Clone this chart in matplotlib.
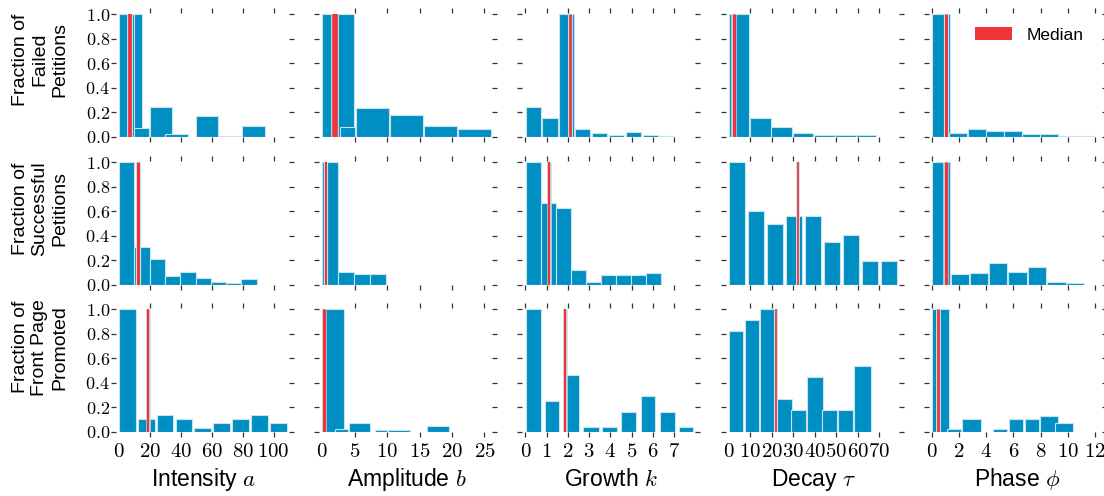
import matplotlib
matplotlib.use("Agg")
import matplotlib.pyplot as plt
import matplotlib.patheffects as pe
from matplotlib.patches import Patch
from matplotlib.ticker import FuncFormatter

plt.rcParams['mathtext.fontset'] = 'cm'
plt.rcParams['font.family'] = ['Liberation Sans', 'DejaVu Sans']

# ---------------- data: (left edge, right edge, fraction) per histogram bar ----------------
failed_intensity = [(0, 9.7, 1.0), (9.7, 14.8, 1.0), (9.7, 19.5, 0.07), (20.0, 34.6, 0.24),
                    (29.7, 44.7, 0.02), (49.7, 64.3, 0.17), (64.5, 79.3, 0.004), (79.5, 94.2, 0.09)]
successful_intensity = [(0, 9.9, 1.0), (9.9, 19.8, 0.305), (19.8, 29.7, 0.206), (29.7, 39.6, 0.07),
                        (39.6, 49.5, 0.10), (49.5, 59.4, 0.052), (59.4, 69.3, 0.025),
                        (69.3, 79.2, 0.016), (79.2, 89.1, 0.044)]
front_intensity = [(0, 10.8, 1.0), (12.0, 23.0, 0.104), (24.4, 35.2, 0.14), (36.6, 47.4, 0.104),
                   (48.8, 59.6, 0.03), (61.0, 71.8, 0.068), (73.2, 84.0, 0.104),
                   (85.4, 96.2, 0.14), (97.6, 108.4, 0.068)]

failed_amplitude = [(0, 4.9, 1.0), (2.7, 5.1, 0.076), (5.25, 10.35, 0.237), (10.5, 15.5, 0.174),
                    (15.7, 20.75, 0.09), (20.9, 26.0, 0.06)]
successful_amplitude = [(0, 2.4, 1.0), (2.45, 4.9, 0.107), (4.9, 7.35, 0.085), (7.35, 9.8, 0.085)]
front_amplitude = [(0, 3.3, 1.0), (1.9, 4.0, 0.02), (4.1, 7.4, 0.074), (8.1, 10.0, 0.016),
                   (10.2, 13.5, 0.016), (16.2, 19.6, 0.05)]

failed_growth = [(0.03, 0.75, 0.24), (0.79, 1.52, 0.155), (1.56, 2.28, 1.0), (2.34, 3.06, 0.06),
                 (3.13, 3.85, 0.033), (3.94, 4.64, 0.016), (4.73, 5.43, 0.035),
                 (5.53, 6.23, 0.014), (6.3, 7.0, 0.003)]
successful_growth = [(0.03, 0.73, 1.0), (0.73, 1.43, 0.67), (1.43, 2.13, 0.626), (2.13, 2.84, 0.118),
                     (2.84, 3.54, 0.025), (3.54, 4.25, 0.082), (4.25, 4.96, 0.082),
                     (4.96, 5.66, 0.082), (5.66, 6.37, 0.093)]
front_growth = [(0.03, 0.73, 1.0), (0.92, 1.6, 0.247), (1.82, 2.51, 0.46), (2.71, 3.44, 0.038),
                (3.61, 4.31, 0.038), (4.52, 5.22, 0.162), (5.42, 6.11, 0.29),
                (6.32, 7.02, 0.162), (7.23, 7.91, 0.038)]

failed_decay = [(0, 9.6, 1.0), (9.8, 19.6, 0.155), (19.7, 29.5, 0.082), (29.7, 39.4, 0.027),
                (39.5, 49.3, 0.011), (49.4, 59.0, 0.011), (59.2, 68.6, 0.011)]
successful_decay = [(0, 7.7, 1.0), (8.9, 16.5, 0.6), (17.8, 25.3, 0.5), (26.6, 34.2, 0.56),
                    (35.4, 43.0, 0.56), (44.3, 51.9, 0.35), (53.1, 60.7, 0.404),
                    (62.0, 69.5, 0.19), (70.8, 78.4, 0.19)]
front_decay = [(0, 6.9, 0.82), (7.5, 14.2, 0.91), (14.7, 21.3, 1.0), (22.6, 29.5, 0.27),
               (29.1, 36.0, 0.178), (36.4, 44.1, 0.45), (43.6, 50.6, 0.178),
               (50.8, 57.8, 0.178), (58.4, 66.0, 0.54)]

failed_phase = [(0, 1.35, 1.0), (1.3, 2.6, 0.033), (2.65, 4.0, 0.06), (4.0, 5.3, 0.046),
                (5.3, 6.65, 0.049), (6.65, 7.95, 0.025), (7.97, 9.27, 0.025),
                (9.3, 10.6, 0.003), (10.6, 11.9, 0.005)]
successful_phase = [(0, 1.35, 1.0), (1.4, 2.73, 0.085), (2.78, 4.1, 0.093), (4.18, 5.55, 0.18),
                    (5.6, 6.97, 0.107), (7.05, 8.4, 0.146), (8.48, 9.84, 0.025),
                    (9.9, 11.2, 0.016)]
front_phase = [(0, 1.3, 1.0), (1.1, 2.16, 0.022), (2.23, 3.6, 0.107), (4.53, 5.56, 0.022),
               (5.66, 6.74, 0.107), (6.82, 7.87, 0.107), (7.95, 9.25, 0.13), (9.05, 10.4, 0.074)]

failed_medians = [7.3, 2.0, 2.08, 2.4, 1.07]
successful_medians = [12.0, 0.65, 1.11, 32.4, 1.05]
front_medians = [18.6, 0.25, 1.85, 21.85, 0.45]

parameter_labels = ['Intensity $a$', 'Amplitude $b$', 'Growth $k$', r'Decay $\tau$', r'Phase $\phi$']
group_labels = ['Fraction of\nFailed\nPetitions', 'Fraction of\nSuccessful\nPetitions',
                'Fraction of\nFront Page\nPromoted']
x_ticks = [[0, 20, 40, 60, 80, 100], [0, 5, 10, 15, 20, 25], [0, 1, 2, 3, 4, 5, 6, 7],
           [0, 10, 20, 30, 40, 50, 60, 70], [0, 2, 4, 6, 8, 10, 12]]
x_limits = [110, 26.2, 8, 79, 12.5]
y_ticks = [0.0, 0.2, 0.4, 0.6, 0.8, 1.0]

rows = [
    (failed_intensity, failed_amplitude, failed_growth, failed_decay, failed_phase),
    (successful_intensity, successful_amplitude, successful_growth, successful_decay, successful_phase),
    (front_intensity, front_amplitude, front_growth, front_decay, front_phase),
]
medians = [failed_medians, successful_medians, front_medians]

# ---------------- style ----------------
BLUE = '#008fc2'
EDGE = '#c6e2ed'
RED = '#ef3338'
median_px = [[3.7, 5.6, 2.7, 3.3, 3.0], [3.0, 2.0, 2.3, 1.7, 3.3], [2.3, 3.3, 2.3, 1.7, 2.7]]
label_y = [0.63, 0.62, 0.69]
hide_zero_tick = [True, True, False, True, False]

W, H = 1104, 496
fig = plt.figure(figsize=(W / 100, H / 100), dpi=100)

row_tops = [14.3, 162.3, 309.3]
row_h = 122.4
col_lefts = [119, 322.2, 525.4, 728.6, 931.8]
col_w = 170

for r in range(3):
    for c in range(5):
        ax = fig.add_axes([col_lefts[c] / W, 1 - (row_tops[r] + row_h) / H, col_w / W, row_h / H])
        for (lo, hi, h) in rows[r][c]:
            ax.bar(lo, h, width=hi - lo, align='edge', color=BLUE, edgecolor=EDGE, linewidth=0.8)
        lw = median_px[r][c] * 0.72
        ax.axvline(medians[r][c], color=RED, lw=lw, solid_capstyle='butt',
                   path_effects=[pe.Stroke(linewidth=lw + 1.6, foreground=EDGE), pe.Normal()])
        ax.set_xlim(0, x_limits[c])
        ax.set_ylim(0, 1)
        for s in ax.spines.values():
            s.set_visible(False)
        ax.spines['left'].set_position(('outward', 2.2))
        ax.spines['top'].set_position(('outward', 1.2))
        ax.set_xticks(x_ticks[c])
        ax.set_yticks(y_ticks)
        ax.xaxis.set_major_formatter(FuncFormatter(lambda v, p: '$%g$' % v))
        ax.yaxis.set_major_formatter(FuncFormatter(lambda v, p: '$%.1f$' % v))
        ax.tick_params(axis='both', which='major', direction='out', length=3.3, width=0.9,
                       color='#333333', top=True, right=True,
                       labelbottom=(r == 2), labelleft=(c == 0))
        ax.tick_params(axis='x', labelsize=15, pad=4)
        ax.tick_params(axis='y', labelsize=13, pad=1)
        if hide_zero_tick[c]:
            t0 = ax.xaxis.get_major_ticks()[0]
            t0.tick1line.set_visible(False)
            t0.tick2line.set_visible(False)
        if r == 2:
            ax.set_xlabel(parameter_labels[c], fontsize=16.5, va='baseline')
            ax.xaxis.set_label_coords(0.5, -0.44)
        if c == 0:
            ax.set_ylabel(group_labels[r], fontsize=14, va='center', ha='center',
                          linespacing=1.2)
            ax.yaxis.set_label_coords(-0.465, label_y[r])
        if r == 0 and c == 4:
            ax.legend(handles=[Patch(facecolor=RED, edgecolor='none', label='Median')],
                      loc='upper right', frameon=False, fontsize=12.5,
                      handlelength=2.1, handleheight=0.7, handletextpad=0.85,
                      bbox_to_anchor=(0.985, 1.02))

fig.savefig('out.png', dpi=100)
